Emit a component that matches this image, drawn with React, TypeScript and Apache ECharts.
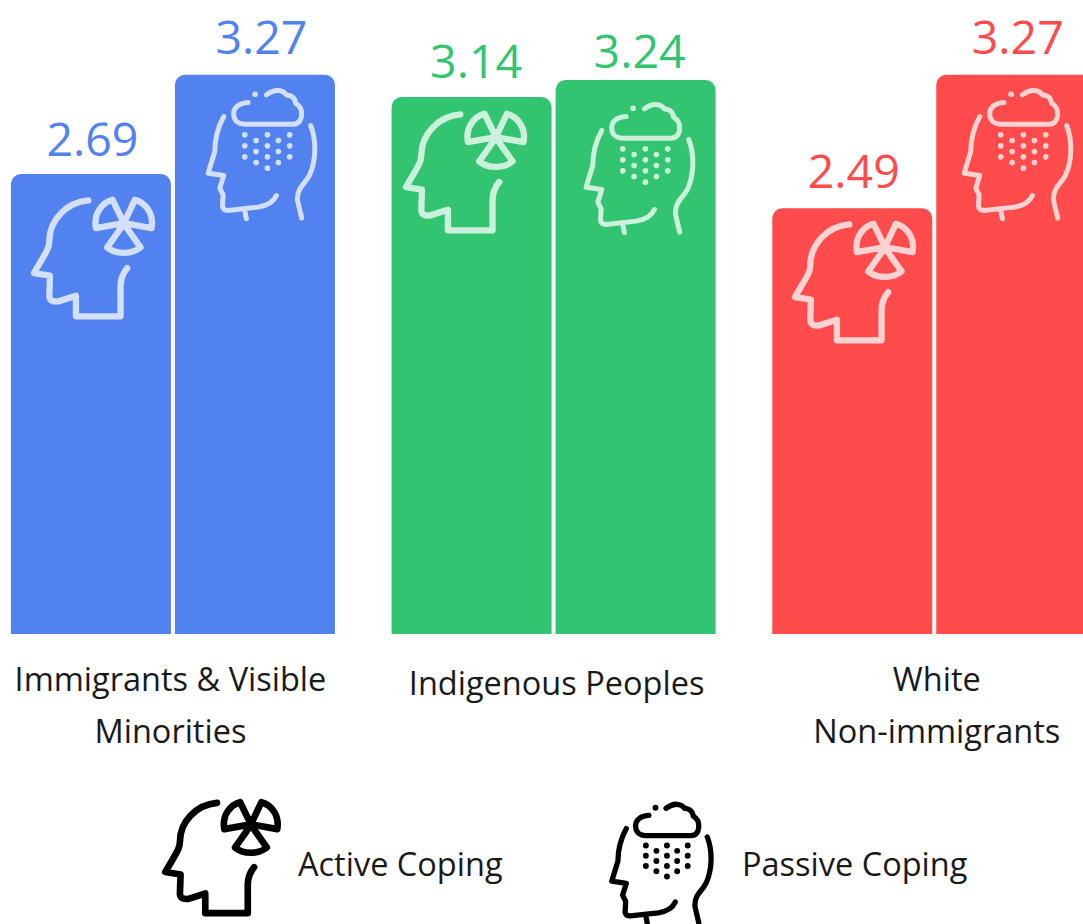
import React, { useEffect, useRef } from "react";
import * as echarts from "echarts";

const categories = ["Immigrants & Visible\nMinorities", "Indigenous Peoples", "White\nNon-immigrants"];
const activeValues = [2.69, 3.14, 2.49];
const passiveValues = [3.27, 3.24, 3.27];
const groupColors = ["#5282F0", "#33C472", "#FF4B4B"];
const legendLabels = ["Active Coping", "Passive Coping"];
const FONT = "'Open Sans', sans-serif";

const categoryLabelPadding = [
  [0, 5, 0, 0],
  [4, 0, 0, 6],
  [0, 0, 0, 5],
];
const activeLabelOffsets = [[1.5, 4], [4.5, 3], [1.5, 2]];
const passiveLabelOffsets = [[6.5, 2], [4, 11], [1.5, 2]];

const ACTIVE_D =
  "M265 602C200 608 148 660 148 725C148 745 140 755 102 820L150 828L148 890Q150 908 175 905L228 888L228 950L362 950L362 860Q362 830 382 805" +
  "M372 670L338 600C308 608 280 640 288 685Z" +
  "M372 670L405 600C435 608 463 640 455 685Z" +
  "M372 672L322 743C350 765 395 765 422 743Z";

const rain = [[735,405],[803,405],[870,405],[769,422],[836,422],[735,438],[803,438],[870,438],[769,455],[836,455],[735,471],[803,471],[870,471],[769,488],[836,488],[803,505],[766,283]];
const PASSIVE_D =
  "M745 308C715 310 700 325 702 345C703 365 720 373 735 373L880 373C900 373 908 355 905 335C905 322 895 315 888 310C885 290 870 285 860 285C850 270 825 265 800 285" +
  "M672 350C650 390 645 420 645 455L625 520L672 527L660 565L670 585L668 620Q670 632 685 632L775 622C800 618 820 610 830 587" +
  "M735 632L740 657" +
  "M933 377C950 420 950 480 930 525C915 555 893 560 893 600L906 655";
const DOTS_D = rain.map(([x, y]) => `M${x} ${y}L${x + 0.1} ${y}`).join("");

echarts.graphic.registerShape("activeHead", echarts.graphic.extendPath(ACTIVE_D, {}));
echarts.graphic.registerShape("passiveHead", echarts.graphic.extendPath(PASSIVE_D, {}));
echarts.graphic.registerShape("rainDots", echarts.graphic.extendPath(DOTS_D, {}));

const iconStyle = (stroke: string, lineWidth: number) => ({
  fill: "none", stroke, lineWidth, lineCap: "round", lineJoin: "round",
});

function active(x: number, y: number, s: number, stroke: string, lw = 19) {
  return { type: "activeHead", x, y, z: 10, scaleX: s / 3, scaleY: s / 3, silent: true, style: iconStyle(stroke, lw) };
}
function passive(x: number, y: number, s: number, stroke: string, lw = 15) {
  return [
    { type: "passiveHead", x, y, z: 10, scaleX: s / 3, scaleY: s / 3, silent: true, style: iconStyle(stroke, lw) },
    { type: "rainDots", x, y, z: 10, scaleX: s / 3, scaleY: s / 3, silent: true, style: iconStyle(stroke, lw + 2) },
  ];
}

export default function App() {
  const ref = useRef<HTMLDivElement>(null);
  useEffect(() => {
    document.body.style.margin = "0";
    const chart = echarts.init(ref.current!, undefined, { renderer: "svg" });
    const makeData = (vals: number[], offsets: number[][]) =>
      vals.map((value, i) => ({
        value,
        itemStyle: { color: groupColors[i] },
        label: { color: groupColors[i], offset: offsets[i] },
      }));
    const ink = "rgba(255,255,255,0.75)";
    const black = "#000000";
    const seriesBase = {
      type: "bar",
      barWidth: 160,
      barGap: "2.5%",
      itemStyle: { borderRadius: [10, 10, 0, 0] },
      label: { show: true, position: "top", fontSize: 46.5, fontFamily: FONT, distance: 17, formatter: (p: any) => p.value.toFixed(2) },
    };
    chart.setOption({
      animation: false,
      grid: { left: -17.4, top: 1.3, width: 1142, height: 632.7, outerBoundsMode: "none" },
      xAxis: {
        type: "category",
        data: categories.map((value, i) => ({ value, textStyle: { padding: categoryLabelPadding[i] } })),
        axisLine: { show: false },
        axisTick: { show: false },
        axisLabel: { interval: 0, color: "#1a1a1a", fontFamily: FONT, fontSize: 32.5, lineHeight: 52, margin: 18 },
      },
      yAxis: { type: "value", min: 0, max: 3.7, show: false },
      series: [
        { ...seriesBase, name: "Active Coping", data: makeData(activeValues, activeLabelOffsets) },
        { ...seriesBase, name: "Passive Coping", data: makeData(passiveValues, passiveLabelOffsets) },
      ],
      graphic: [
        active(0, 0, 1, ink),
        active(372, -86, 1, ink),
        active(761, 24, 1, ink),
        ...passive(0, 0, 1, ink),
        ...passive(378, 14, 1, ink),
        ...passive(756, 0, 1, ink),
        active(133, 612, 0.95, black, 21),
        ...passive(418, 720, 0.93, black, 17),
        { type: "text", x: 298, y: 863, silent: true, style: { text: legendLabels[0], fill: "#1a1a1a", font: `32.5px ${FONT}`, textVerticalAlign: "middle" } },
        { type: "text", x: 742, y: 863, silent: true, style: { text: legendLabels[1], fill: "#1a1a1a", font: `32.5px ${FONT}`, textVerticalAlign: "middle" } },
      ],
    });
    return () => chart.dispose();
  }, []);
  return <div ref={ref} style={{ width: 1083, height: 924, background: "#fff", overflow: "hidden" }} />;
}
